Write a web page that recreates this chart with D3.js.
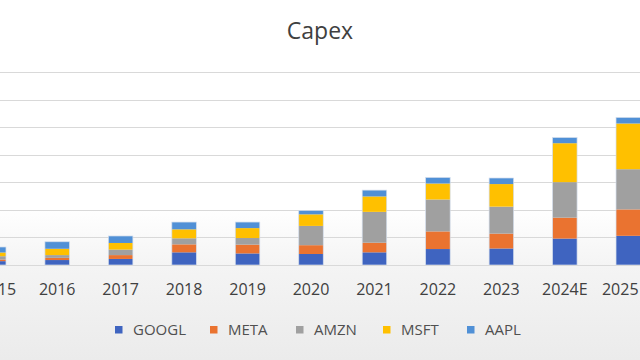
<!DOCTYPE html>
<html>
<head>
<meta charset="utf-8">
<script src="https://cdn.jsdelivr.net/npm/d3@7"></script>
<style>
  body { margin: 0; background: #fff; }
  svg { display: block; font-family: "Open Sans", sans-serif; }
</style>
</head>
<body>
<div id="chart"></div>
<script>
// values in $B
const years = ["2015", "2016", "2017", "2018", "2019", "2020", "2021", "2022", "2023", "2024E", "2025"];
const series = ["GOOGL", "META", "AMZN", "MSFT", "AAPL"];
const googl = [7, 9, 11, 23, 21, 20, 23, 29, 30, 48, 53];
const meta  = [3, 4, 7, 14.5, 16, 16, 17.5, 32, 27, 38, 48];
const amzn  = [6, 5, 10, 11, 12, 35, 56, 58, 49, 64.5, 73];
const msft  = [6.7, 11.5, 12, 16.3, 18, 21, 28, 29, 41, 70.7, 83];
const aapl  = [10, 12.7, 12.7, 13.2, 11, 7, 11.5, 11, 11, 10.3, 11];
const yTicks = [0, 50, 100, 150, 200, 250, 300, 350];
const colors = ["#3F64C0", "#EA7330", "#A0A0A0", "#FFC000", "#5090D6"];

const width = 640, height = 360;

const rows = years.map((y, i) => ({
  year: y, GOOGL: googl[i], META: meta[i], AMZN: amzn[i], MSFT: msft[i], AAPL: aapl[i]
}));

const svg = d3.select("#chart").append("svg")
  .attr("width", width)
  .attr("height", height);

// soft grey fade towards the bottom, like the screenshot
const grad = svg.append("defs").append("linearGradient")
  .attr("id", "bg").attr("x1", 0).attr("y1", 0).attr("x2", 0).attr("y2", 1);
grad.append("stop").attr("offset", "0%").attr("stop-color", "#ffffff");
grad.append("stop").attr("offset", "58%").attr("stop-color", "#ffffff");
grad.append("stop").attr("offset", "74%").attr("stop-color", "#f4f4f4");
grad.append("stop").attr("offset", "100%").attr("stop-color", "#ebebeb");
svg.append("rect").attr("width", width).attr("height", height).attr("fill", "url(#bg)");

const x = d3.scaleBand()
  .domain(years)
  .range([-38, 660])
  .paddingInner(0.614)
  .paddingOuter(0.307);

const y = d3.scaleLinear()
  .domain([0, 350])
  .range([265, 72.3]);

// gridlines
svg.append("g")
  .selectAll("line")
  .data(yTicks)
  .enter().append("line")
  .attr("x1", 0).attr("x2", width)
  .attr("y1", d => Math.round(y(d)) + 0.5)
  .attr("y2", d => Math.round(y(d)) + 0.5)
  .attr("stroke", "#d9d9d9")
  .attr("stroke-width", 1);

const stacked = d3.stack().keys(series)(rows);

svg.append("g")
  .selectAll("g")
  .data(stacked)
  .enter().append("g")
  .attr("fill", (d, i) => colors[i])
  .selectAll("rect")
  .data(d => d)
  .enter().append("rect")
  .attr("x", d => x(d.data.year))
  .attr("y", d => y(d[1]))
  .attr("width", x.bandwidth())
  .attr("height", d => y(d[0]) - y(d[1]));

// thin light outline round each column
svg.append("g")
  .selectAll("rect")
  .data(stacked[stacked.length - 1])
  .enter().append("rect")
  .attr("x", d => x(d.data.year))
  .attr("y", d => y(d[1]))
  .attr("width", x.bandwidth())
  .attr("height", d => y(0) - y(d[1]))
  .attr("fill", "none")
  .attr("stroke", "#d3ddec")
  .attr("stroke-width", 0.7);

// x axis
const xAxis = svg.append("g")
  .attr("transform", `translate(0,${y(0)})`)
  .call(d3.axisBottom(x).tickSize(0).tickPadding(0));
xAxis.select(".domain").attr("stroke", "#d9d9d9");
xAxis.selectAll("text")
  .attr("y", 30)
  .attr("dy", 0)
  .attr("fill", "#404040")
  .style("font-family", "Open Sans")
  .style("font-size", "16px");
// excel nudges the edge labels in so they fit
xAxis.selectAll(".tick").filter(d => d === "2025").select("text").attr("dx", -8);
xAxis.selectAll(".tick").filter(d => d === "2015").select("text").attr("dx", 4);

// title
svg.append("text")
  .attr("x", 320)
  .attr("y", 39)
  .attr("text-anchor", "middle")
  .attr("fill", "#404040")
  .style("font-size", "23px")
  .text("Capex");

// legend
const legendX = [115, 210, 296, 383, 467];
const legend = svg.append("g")
  .selectAll("g")
  .data(series)
  .enter().append("g")
  .attr("transform", (d, i) => `translate(${legendX[i]},0)`);
legend.append("rect")
  .attr("x", 0).attr("y", 326)
  .attr("width", 7.5).attr("height", 7.5)
  .attr("fill", (d, i) => colors[i]);
legend.append("text")
  .attr("x", 18).attr("y", 335)
  .attr("fill", "#505050")
  .style("font-size", "15px")
  .text(d => d);
</script>
</body>
</html>
